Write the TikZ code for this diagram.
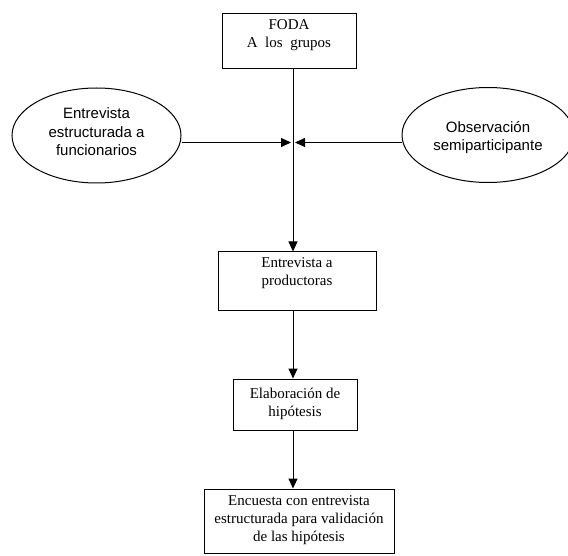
\documentclass[tikz,border=0pt]{standalone}
\usepackage{fontspec}
\setmainfont{Liberation Serif}
\newfontfamily\ellfont{Liberation Sans}
\usetikzlibrary{arrows.meta,shapes.geometric}
\begin{document}
\begin{tikzpicture}[x=1pt,y=-1pt,
  boxshape/.style={draw,line width=1pt,rectangle,inner sep=0pt},
  boxtext/.style={align=center,inner sep=0pt,font=\fontsize{15}{18}\selectfont},
  ellshape/.style={draw,line width=1pt,ellipse,inner sep=0pt},
  elltext/.style={align=center,inner sep=0pt,font=\ellfont\fontsize{15}{18.5}\selectfont},
  conn/.style={line width=1pt,-{Triangle[length=10pt,width=9pt]}}]
\useasboundingbox (0,0) rectangle (568,556);
\clip (0,0) rectangle (568,556);
\coordinate (axis) at (293,0);
% boxes
\node[boxshape,minimum width=134pt,minimum height=55pt] (foda) at (289,41.5) {};
\node[boxtext] (fodat) at (289,35) {FODA\\A\ \ los\ \ grupos};
\node[boxshape,minimum width=158pt,minimum height=59pt] (prod) at (297,281.5) {};
\node[boxtext] (prodt) at (297,273) {Entrevista a\\productoras};
\node[boxshape,minimum width=124pt,minimum height=51pt] (elab) at (295,404.5) {};
\node[boxtext] (elabt) at (295,404) {Elaboración de\\hipótesis};
\node[boxshape,minimum width=190pt,minimum height=64pt] (enc) at (299,521) {};
\node[boxtext] (enct) at (299,520) {Encuesta con entrevista\\estructurada para validación\\de las hipótesis};
% ellipses
\node[ellshape,minimum width=169pt,minimum height=95pt] (func) at (96.5,135.5) {};
\node[elltext] (funct) at (96.5,132) {Entrevista\\estructurada a\\funcionarios};
\node[ellshape,minimum width=172pt,minimum height=95pt] (obs) at (488,135) {};
\node[elltext] (obst) at (488,137.5) {Observación\\semiparticipante};
% junction points
\coordinate (jl) at (291,142.5);
\coordinate (jr) at (295,142.5);
% connectors
\draw[conn] (foda.south -| axis) -- (prod.north -| axis);
\draw[conn] (prod.south -| axis) -- (elab.north -| axis);
\draw[conn] (elab.south -| axis) -- (enc.north -| axis);
\draw[conn] (func.east |- jl) -- (jl);
\draw[conn] (obs.west |- jr) -- (jr);
\end{tikzpicture}
\end{document}
